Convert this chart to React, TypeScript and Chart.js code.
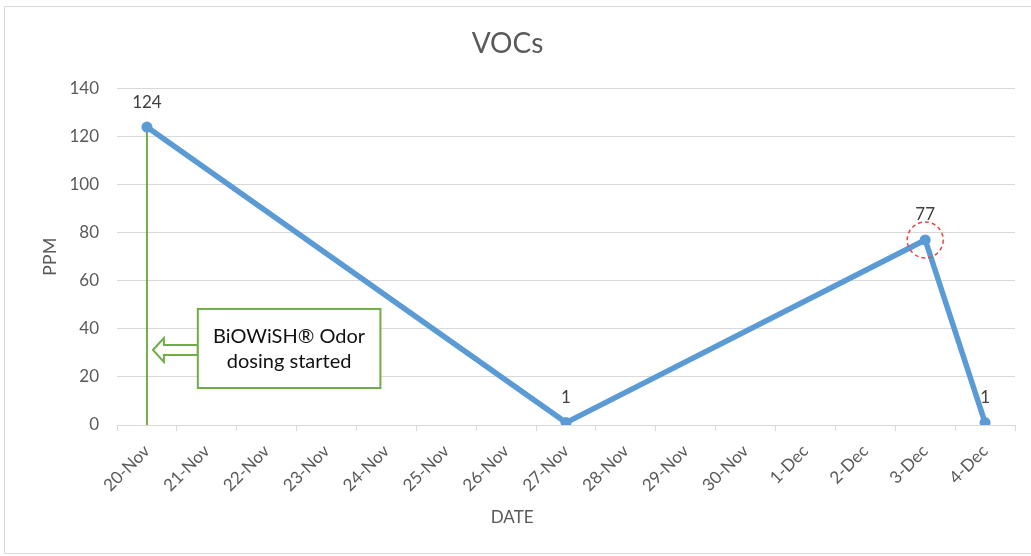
import React, { useEffect, useRef } from "react";
import { Chart, registerables } from "chart.js";

Chart.register(...registerables);

const categories = [
  "20-Nov", "21-Nov", "22-Nov", "23-Nov", "24-Nov", "25-Nov", "26-Nov", "27-Nov",
  "28-Nov", "29-Nov", "30-Nov", "1-Dec", "2-Dec", "3-Dec", "4-Dec",
];
const vocValues: (number | null)[] = [124, null, null, null, null, null, null, 1, null, null, null, null, null, 77, 1];
const yTickMin = 0;
const yTickMax = 140;
const yTickStep = 20;

const chartTitle = "VOCs";
const yTitle = "PPM";
const xTitle = "DATE";
const noteLines = ["BiOWiSH® Odor", "dosing started"];
const dosingIndex = 0;
const highlightIndex = 13;
// annotation box in data units (category index, PPM)
const noteBox = { x0: 0.85, x1: 3.9, yTop: 48.3, yBottom: 15.4 };
const arrowTip = { x: 0.1, y: 31.2 };
// x-axis title sits at category position (Excel-style offset)
const xTitleCategoryPos = 6.1;

const FONT = "Lato, 'Open Sans', sans-serif";

const annotationPlugin = {
  id: "annotations",
  beforeDraw(chart: any) {
    const ctx = chart.ctx;
    ctx.save();
    ctx.fillStyle = "#ffffff";
    ctx.fillRect(0, 0, chart.width, chart.height);
    ctx.strokeStyle = "#d9d9d9";
    ctx.lineWidth = 1;
    ctx.strokeRect(4.5, 6.5, chart.width + 10, chart.height - 9);
    ctx.restore();
  },
  beforeDatasetsDraw(chart: any) {
    const ctx = chart.ctx;
    const xs = chart.scales.x;
    const ys = chart.scales.y;
    const step = xs.getPixelForValue(1) - xs.getPixelForValue(0);
    const px = (v: number) => xs.getPixelForValue(0) + v * step;
    ctx.save();
    // vertical dosing line
    const lx = xs.getPixelForValue(dosingIndex);
    ctx.strokeStyle = "#70AD47";
    ctx.lineWidth = 2;
    ctx.beginPath();
    ctx.moveTo(lx, ys.getPixelForValue(vocValues[dosingIndex] as number));
    ctx.lineTo(lx, ys.getPixelForValue(0));
    ctx.stroke();

    // hollow arrow
    const tipX = px(arrowTip.x);
    const tipY = ys.getPixelForValue(arrowTip.y);
    const bx0 = px(noteBox.x0);
    const headX = tipX + 11;
    ctx.beginPath();
    ctx.moveTo(tipX, tipY);
    ctx.lineTo(headX, tipY - 12);
    ctx.lineTo(headX, tipY - 5);
    ctx.lineTo(bx0, tipY - 5);
    ctx.lineTo(bx0, tipY + 5);
    ctx.lineTo(headX, tipY + 5);
    ctx.lineTo(headX, tipY + 12);
    ctx.closePath();
    ctx.fillStyle = "#ffffff";
    ctx.fill();
    ctx.stroke();

    // box
    const bx1 = px(noteBox.x1);
    const by0 = ys.getPixelForValue(noteBox.yTop);
    const by1 = ys.getPixelForValue(noteBox.yBottom);
    ctx.fillStyle = "#ffffff";
    ctx.fillRect(bx0, by0, bx1 - bx0, by1 - by0);
    ctx.strokeRect(bx0, by0, bx1 - bx0, by1 - by0);
    ctx.fillStyle = "#111111";
    ctx.font = `20px ${FONT}`;
    ctx.textAlign = "center";
    ctx.textBaseline = "middle";
    const cx = (bx0 + bx1) / 2;
    const cy = (by0 + by1) / 2;
    ctx.fillText(noteLines[0], cx, cy - 12);
    ctx.fillText(noteLines[1], cx, cy + 13);

    // x-axis title
    ctx.fillStyle = "#595959";
    ctx.font = `17px ${FONT}`;
    ctx.fillText(xTitle, px(xTitleCategoryPos), 518);
    ctx.restore();
  },
  afterDatasetsDraw(chart: any) {
    const ctx = chart.ctx;
    const meta = chart.getDatasetMeta(0);
    ctx.save();
    // highlight circle
    const hp = meta.data[highlightIndex];
    ctx.strokeStyle = "#E04848";
    ctx.lineWidth = 1.5;
    ctx.setLineDash([4, 3]);
    ctx.beginPath();
    ctx.arc(hp.x, hp.y, 18, 0, Math.PI * 2);
    ctx.stroke();
    ctx.setLineDash([]);
    // data labels
    ctx.fillStyle = "#404040";
    ctx.font = `17px ${FONT}`;
    ctx.textAlign = "center";
    ctx.textBaseline = "middle";
    vocValues.forEach((v, i) => {
      if (v === null) return;
      const p = meta.data[i];
      ctx.fillText(String(v), p.x, p.y - 25);
    });
    ctx.restore();
  },
};

export default function App() {
  const ref = useRef<HTMLCanvasElement | null>(null);
  useEffect(() => {
    document.body.style.margin = "0";
    if (!ref.current) return;
    const chart = new Chart(ref.current, {
      type: "line",
      data: {
        labels: categories,
        datasets: [
          {
            data: vocValues,
            borderColor: "#5B9BD5",
            backgroundColor: "#5B9BD5",
            borderWidth: 5.5,
            pointRadius: 5.5,
            pointBorderWidth: 0,
            spanGaps: true,
            tension: 0,
          },
        ],
      },
      options: {
        responsive: false,
        animation: false,
        layout: { padding: { left: 0, right: 16, top: 0, bottom: 0 } },
        plugins: {
          legend: { display: false },
          tooltip: { enabled: false },
          title: {
            display: true,
            text: chartTitle,
            color: "#595959",
            font: { family: FONT, size: 28, weight: "normal" },
            padding: { top: 27, bottom: 28 },
          },
        },
        scales: {
          x: {
            type: "category",
            offset: true,
            afterFit(scale: any) {
              scale.height = 131;
            },
            grid: {
              display: true,
              offset: true,
              drawOnChartArea: false,
              drawTicks: true,
              tickLength: 6,
              color: "#d9d9d9",
            },
            border: { display: true, color: "#d9d9d9", width: 1 },
            ticks: {
              minRotation: 45,
              maxRotation: 45,
              autoSkip: false,
              color: "#595959",
              font: { family: FONT, size: 17 },
              padding: 10,
            },
            title: { display: false },
          },
          y: {
            min: yTickMin,
            max: yTickMax,
            afterFit(scale: any) {
              scale.width = 117;
            },
            ticks: {
              stepSize: yTickStep,
              color: "#595959",
              font: { family: FONT, size: 17 },
              padding: 18,
            },
            grid: { color: "#d9d9d9", drawTicks: false },
            border: { display: false },
            title: {
              display: true,
              text: yTitle,
              color: "#595959",
              font: { family: FONT, size: 18 },
              padding: { top: 39, bottom: 0 },
            },
          },
        },
      },
      plugins: [annotationPlugin],
    } as any);
    return () => chart.destroy();
  }, []);
  return (
    <div style={{ width: 1031, height: 556 }}>
      <canvas ref={ref} width={1031} height={556} />
    </div>
  );
}
